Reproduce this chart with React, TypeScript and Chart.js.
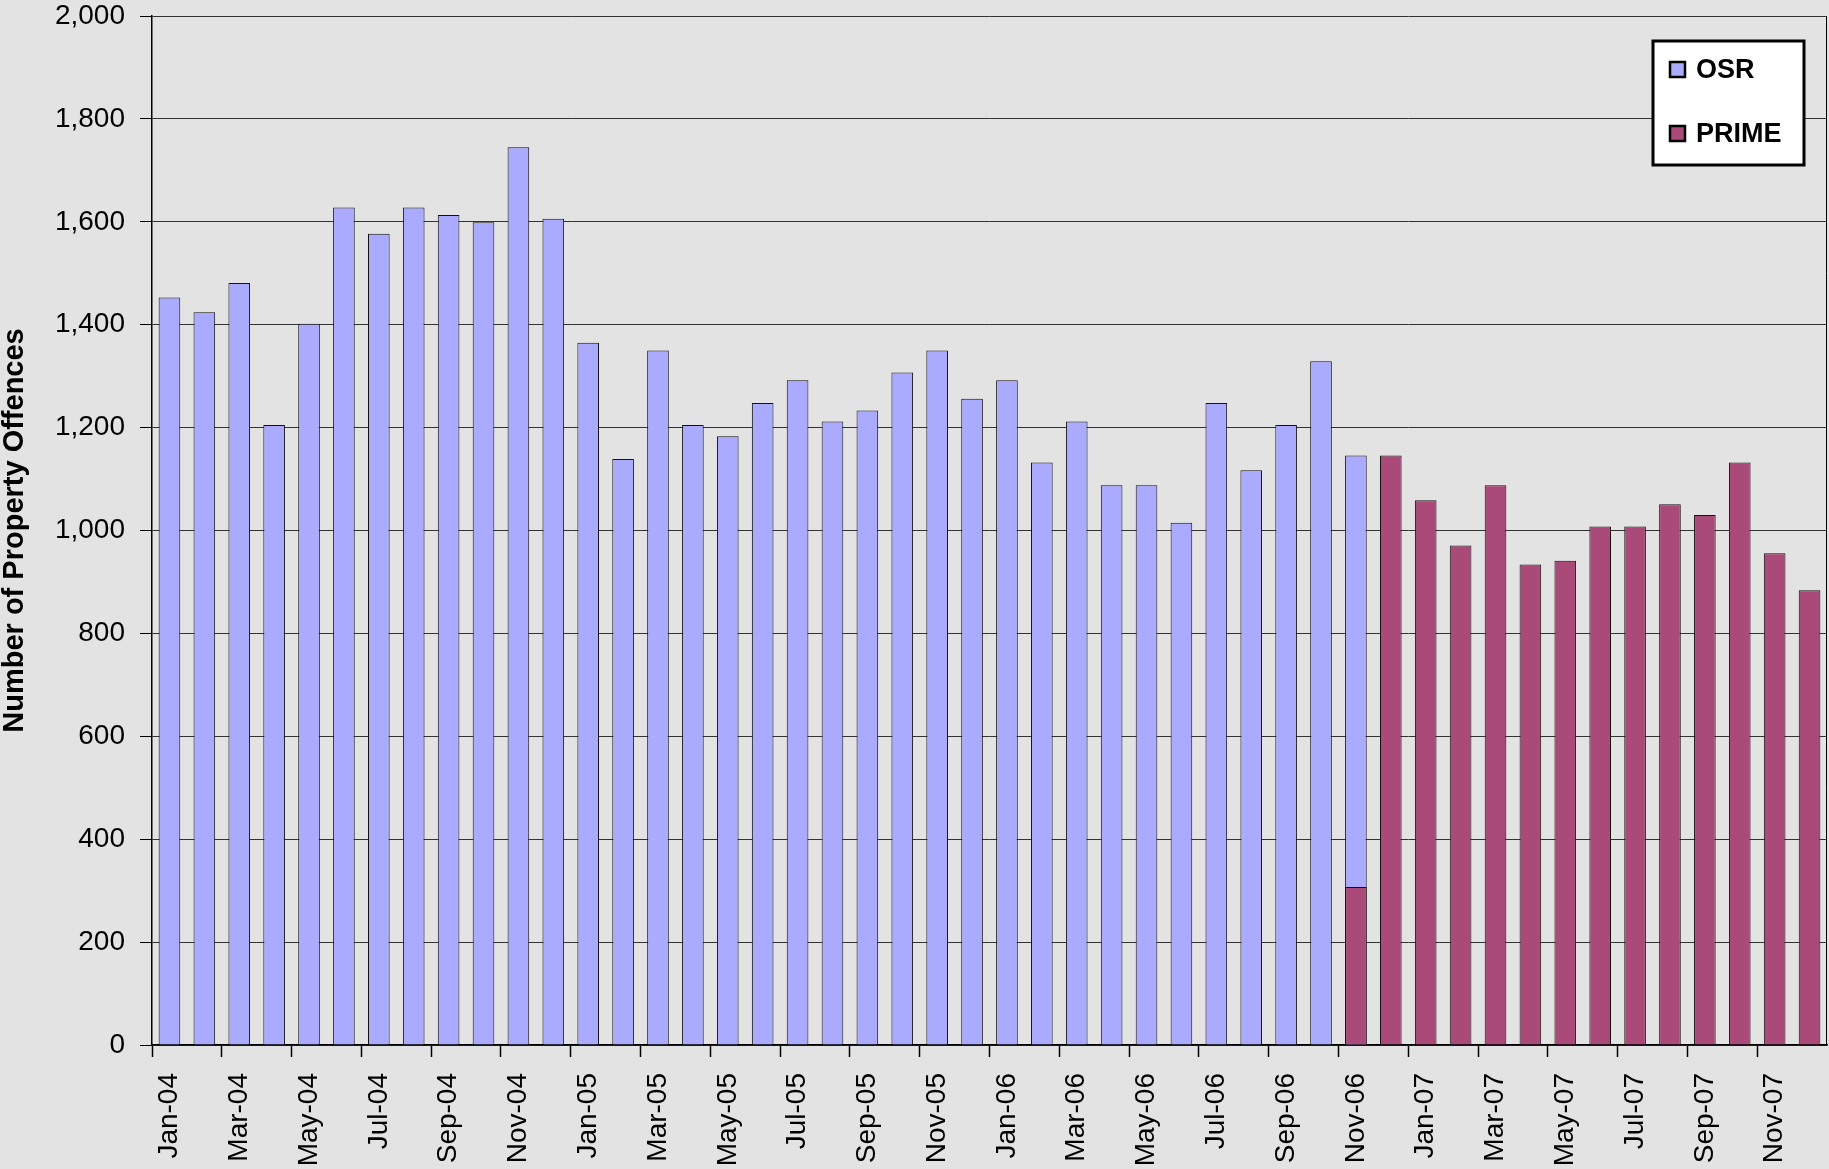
import React, { useEffect, useRef } from 'react';
import { Chart, registerables } from 'chart.js';

Chart.register(...registerables);

const MONTHS = [
  'Jan-04', 'Feb-04', 'Mar-04', 'Apr-04', 'May-04', 'Jun-04', 'Jul-04', 'Aug-04', 'Sep-04', 'Oct-04', 'Nov-04', 'Dec-04',
  'Jan-05', 'Feb-05', 'Mar-05', 'Apr-05', 'May-05', 'Jun-05', 'Jul-05', 'Aug-05', 'Sep-05', 'Oct-05', 'Nov-05', 'Dec-05',
  'Jan-06', 'Feb-06', 'Mar-06', 'Apr-06', 'May-06', 'Jun-06', 'Jul-06', 'Aug-06', 'Sep-06', 'Oct-06', 'Nov-06', 'Dec-06',
  'Jan-07', 'Feb-07', 'Mar-07', 'Apr-07', 'May-07', 'Jun-07', 'Jul-07', 'Aug-07', 'Sep-07', 'Oct-07', 'Nov-07', 'Dec-07',
];

const OSR: (number | null)[] = [
  1453, 1424, 1481, 1205, 1402, 1628, 1577, 1628, 1613, 1599, 1745, 1606,
  1365, 1139, 1350, 1205, 1183, 1248, 1292, 1212, 1233, 1307, 1350, 1256,
  1292, 1132, 1212, 1088, 1088, 1015, 1248, 1117, 1205, 1329, 1146, null,
  null, null, null, null, null, null, null, null, null, null, null, null,
];

const PRIME: (number | null)[] = [
  null, null, null, null, null, null, null, null, null, null, null, null,
  null, null, null, null, null, null, null, null, null, null, null, null,
  null, null, null, null, null, null, null, null, null, null, 307, 1146,
  1059, 971, 1088, 934, 941, 1008, 1008, 1051, 1030, 1132, 956, 884,
];

const SERIES_NAMES = ['OSR', 'PRIME'];
const SERIES_COLORS = ['#aaaaff', '#aa4a78'];
const Y_TITLE = 'Number of Property Offences';

const FONT = "'Liberation Sans', Arial, sans-serif";

const bgPlugin = {
  id: 'bgFill',
  beforeDraw(chart: any) {
    const { ctx, width, height } = chart;
    ctx.save();
    ctx.fillStyle = '#e3e3e3';
    ctx.fillRect(0, 0, width, height);
    ctx.restore();
  },
};

const framePlugin = {
  id: 'frameLegend',
  afterDatasetsDraw(chart: any) {
    const { ctx, chartArea } = chart;
    ctx.save();
    // right frame line
    ctx.strokeStyle = '#000';
    ctx.lineWidth = 1;
    ctx.beginPath();
    ctx.moveTo(Math.round(chartArea.right) - 0.5, chartArea.top);
    ctx.lineTo(Math.round(chartArea.right) - 0.5, chartArea.bottom);
    ctx.stroke();

    // legend box
    const bx = 1653;
    const by = 41;
    const bw = 151;
    const bh = 124;
    ctx.fillStyle = '#ffffff';
    ctx.fillRect(bx, by, bw, bh);
    ctx.lineWidth = 3;
    ctx.strokeStyle = '#000';
    ctx.strokeRect(bx, by, bw, bh);

    const rowsY = [70, 134];
    chart.data.datasets.forEach((ds: any, i: number) => {
      const cy = rowsY[i];
      ctx.fillStyle = ds.backgroundColor;
      ctx.fillRect(1670, cy - 8, 15, 15);
      ctx.lineWidth = 2.5;
      ctx.strokeStyle = '#000';
      ctx.strokeRect(1670, cy - 8, 15, 15);
      ctx.fillStyle = '#000';
      ctx.font = `bold 27px ${FONT}`;
      ctx.textBaseline = 'middle';
      ctx.textAlign = 'left';
      ctx.fillText(ds.label, 1696, cy + 1);
    });
    ctx.restore();
  },
};

export default function App() {
  const canvasRef = useRef<HTMLCanvasElement | null>(null);

  useEffect(() => {
    const canvas = canvasRef.current;
    if (!canvas) return;
    const chart = new Chart(canvas, {
      type: 'bar',
      data: {
        labels: MONTHS,
        datasets: [
          {
            label: SERIES_NAMES[0],
            data: OSR,
            backgroundColor: SERIES_COLORS[0],
            borderColor: '#111',
            borderWidth: 1,
            grouped: false,
            order: 1,
            barPercentage: 0.62,
            categoryPercentage: 1,
          } as any,
          {
            label: SERIES_NAMES[1],
            data: PRIME,
            backgroundColor: SERIES_COLORS[1],
            borderColor: '#111',
            borderWidth: 1,
            grouped: false,
            order: 0,
            barPercentage: 0.62,
            categoryPercentage: 1,
          } as any,
        ],
      },
      options: {
        responsive: false,
        animation: false,
        devicePixelRatio: 1,
        layout: { padding: { top: 16, right: 2, left: 0, bottom: 0 } },
        plugins: {
          legend: { display: false },
          tooltip: { enabled: false },
          title: { display: false },
        },
        scales: {
          x: {
            offset: true,
            grid: {
              offset: true,
              drawOnChartArea: false,
              drawTicks: true,
              tickLength: 12,
              tickColor: (ctx: any) => (ctx.index % 2 === 0 ? '#000' : 'rgba(0,0,0,0)'),
              tickWidth: 1.5,
            },
            border: { color: '#000', width: 1.5 },
            ticks: {
              autoSkip: false,
              minRotation: 90,
              maxRotation: 90,
              padding: 16,
              color: '#000',
              font: { family: FONT, size: 28 },
              callback: (_v: any, index: number) => (index % 2 === 0 ? MONTHS[index] : ''),
            },
            afterFit: (scale: any) => {
              scale.height = 124;
              scale.paddingLeft = 0;
              scale.paddingRight = 0;
            },
          },
          y: {
            min: 0,
            max: 2000,
            grid: {
              color: '#333',
              lineWidth: 1,
              drawTicks: true,
              tickLength: 12,
              tickColor: '#000',
            },
            border: { color: '#000', width: 1.5 },
            ticks: {
              stepSize: 200,
              padding: 15,
              color: '#000',
              font: { family: FONT, size: 28 },
              callback: (v: any) => Number(v).toLocaleString('en-US'),
            },
            title: {
              display: true,
              text: Y_TITLE,
              color: '#000',
              padding: 0,
              font: { family: FONT, size: 29, weight: 'bold', lineHeight: 1 },
            },
            afterFit: (scale: any) => {
              scale.width = 152;
              scale.paddingTop = 0;
              scale.paddingBottom = 0;
            },
          },
        },
      },
      plugins: [bgPlugin, framePlugin],
    } as any);
    return () => chart.destroy();
  }, []);

  return (
    <div style={{ position: 'fixed', left: 0, top: 0, width: 1829, height: 1169, background: '#e3e3e3' }}>
      <canvas ref={canvasRef} width={1829} height={1169} style={{ width: 1829, height: 1169, display: 'block' }} />
    </div>
  );
}
